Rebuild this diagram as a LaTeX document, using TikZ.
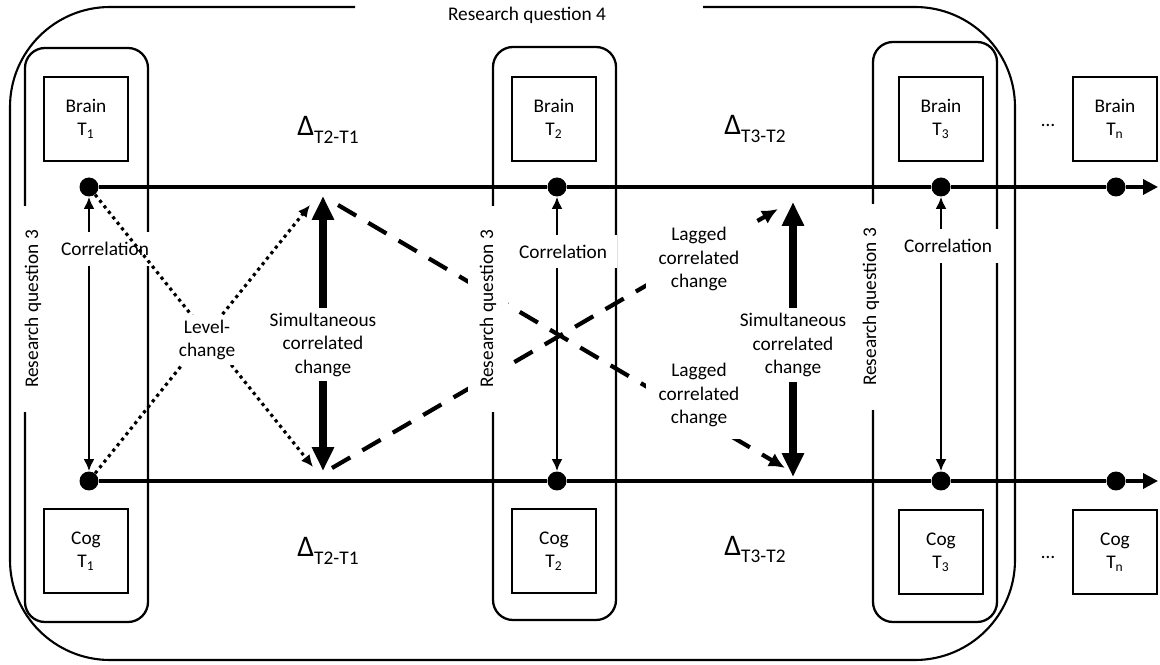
\documentclass[tikz,border=0pt]{standalone}
\usepackage{fontspec}
\setmainfont{Carlito}
\usetikzlibrary{arrows.meta}

\newcommand{\deltalbl}[1]{{\fontsize{17}{17}\selectfont Δ}\raisebox{-4pt}{#1}}

\tikzset{
  tdot/.style={circle, fill=black, inner sep=0pt, minimum size=0.38cm},
  tbox/.style={draw, line width=0.8pt, minimum size=1.68cm, align=center, inner sep=0pt},
  colbox/.style={draw, line width=1.3pt, rounded corners=0.4cm},
  timeline/.style={line width=2pt, -{Triangle[length=0.3cm,width=0.3cm]}},
  corr/.style={line width=1.3pt, {Latex[length=0.24cm,width=0.22cm]}-{Latex[length=0.24cm,width=0.22cm]}},
  simul/.style={line width=4pt, {Triangle[length=0.48cm,width=0.42cm]}-{Triangle[length=0.48cm,width=0.42cm]}},
  level/.style={line width=1.8pt, dash pattern=on 1.8pt off 2.2pt, -{Latex[length=0.24cm,width=0.22cm]}},
  lagged/.style={line width=2.4pt, dash pattern=on 12pt off 8pt, -{Latex[length=0.32cm,width=0.3cm]}},
  lbl/.style={fill=white, align=center, inner xsep=0.2cm, inner ysep=0.2cm},
  rqlbl/.style={fill=white, rotate=90, minimum width=4.14cm, minimum height=0.8cm, inner sep=0pt},
  delta/.style={inner sep=0pt, anchor=base west},
}

\begin{document}
\begin{tikzpicture}[x=0.02cm, y=-0.02cm, font=\fontsize{11}{13.4}\selectfont]
\useasboundingbox (0,0) rectangle (1160,665);

% outer frame and title
\draw[line width=1.2pt, rounded corners=2cm] (355,7) -- (10,7) -- (10,660) -- (1015,660) -- (1015,7) -- (703,7);
\node (rq4) at (527,15) {Research question 4};

% columns
\draw[colbox] (25,48) rectangle (148,622);
\draw[colbox] (493,47) rectangle (616,620);
\draw[colbox] (873,42) rectangle (997,622);

% brain and cog boxes
\node[tbox] (brain1) at (86,119) {Brain\\T\textsubscript{1}};
\node[tbox] (brain2) at (554,119) {Brain\\T\textsubscript{2}};
\node[tbox] (brain3) at (941,119) {Brain\\T\textsubscript{3}};
\node[tbox] (brainn) at (1115,119) {Brain\\T\textsubscript{n}};
\node[tbox] (cog1) at (86,551) {Cog\\T\textsubscript{1}};
\node[tbox] (cog2) at (554,551) {Cog\\T\textsubscript{2}};
\node[tbox] (cog3) at (941,552) {Cog\\T\textsubscript{3}};
\node[tbox] (cogn) at (1115,552) {Cog\\T\textsubscript{n}};
\node (dotsb) at (1048,125) {…};
\node (dotsc) at (1048,557) {…};

% deltas
\node[delta] (d21b) at (297,136) {\deltalbl{T2-T1}};
\node[delta] (d32b) at (724,135) {\deltalbl{T3-T2}};
\node[delta] (d21c) at (297,557) {\deltalbl{T2-T1}};
\node[delta] (d32c) at (724,555) {\deltalbl{T3-T2}};

% time points
\node[tdot] (b1) at (89,187) {};
\node[tdot] (b2) at (557,187) {};
\node[tdot] (b3) at (941,187) {};
\node[tdot] (bn) at (1116,187) {};
\node[tdot] (c1) at (89,481) {};
\node[tdot] (c2) at (557,481) {};
\node[tdot] (c3) at (941,481) {};
\node[tdot] (cn) at (1116,481) {};
\coordinate (bend) at (1158,187);
\coordinate (cend) at (1158,481);

\draw[timeline] (b1) -- (b2) -- (b3) -- (bn) -- (bend);
\draw[timeline] (c1) -- (c2) -- (c3) -- (cn) -- (cend);

% correlations
\draw[corr] (b1) -- (c1) node[lbl, pos=0.19, xshift=0.32cm] (corr1) {Correlation};
\draw[corr] (b2) -- (c2) node[lbl, pos=0.2, xshift=0.12cm] (corr2) {Correlation};
\draw[corr] (b3) -- (c3) node[lbl, pos=0.18, xshift=0.14cm] (corr3) {Correlation};

% simultaneous change
\coordinate (s1t) at (323,196);
\coordinate (s1b) at (323,471);
\coordinate (s2t) at (793,202);
\coordinate (s2b) at (793,477);
\draw[simul] (s1t) -- (s1b) node[lbl, pos=0.54, inner ysep=0.1cm] (sim1) {Simultaneous\\correlated\\change};
\draw[simul] (s2t) -- (s2b) node[lbl, pos=0.52, inner ysep=0.1cm] (sim2) {Simultaneous\\correlated\\change};

% level change
\coordinate (lv1) at (313,467);
\coordinate (lv2) at (310,205);
\draw[level] (b1) -- (lv1);
\draw[level] (c1) -- (lv2);
\node[lbl, inner sep=0.1cm] (lvl) at (207,340) {Level-\\change};

% lagged change
\coordinate (lg1s) at (338,205);
\coordinate (lg1e) at (785,468);
\coordinate (lg2s) at (332,468);
\coordinate (lg2e) at (778,209);
\draw[lagged] (lg1s) -- (lg1e);
\draw[lagged] (lg2s) -- (lg2e);
\node[lbl, inner sep=0.25cm] (lag1) at (699,259) {Lagged\\correlated\\change};
\node[lbl, inner sep=0.25cm] (lag2) at (699,395) {Lagged\\correlated\\change};

% research question 3
\node[rqlbl] (rq3a) at (33,309) {Research question 3};
\node[rqlbl] (rq3b) at (488,309) {Research question 3};
\node[rqlbl] (rq3c) at (871,307) {Research question 3};
\end{tikzpicture}
\end{document}
